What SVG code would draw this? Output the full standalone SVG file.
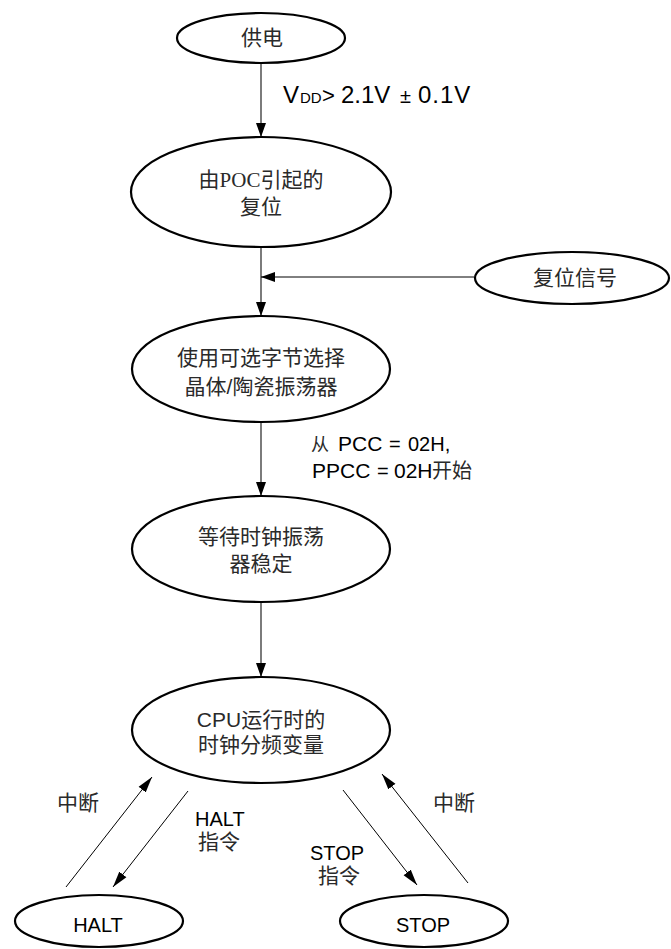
<svg xmlns="http://www.w3.org/2000/svg" width="671" height="949" viewBox="0 0 671 949">
<defs>
<marker id="ah" markerUnits="userSpaceOnUse" markerWidth="14" markerHeight="10" refX="14" refY="5" orient="auto">
<path d="M0,0 L14,5 L0,10 z" fill="#000"/>
</marker>
<marker id="ad" markerUnits="userSpaceOnUse" markerWidth="16" markerHeight="10" refX="16" refY="5" orient="auto">
<path d="M0,0.5 L16,5 L0,9.5 z" fill="#000"/>
</marker>
</defs>
<style>
.node ellipse{fill:#fff;stroke:#000;stroke-width:2.2}
.cjk{font-family:"Liberation Sans","Noto Sans CJK SC",sans-serif;font-size:21px;fill:#2a2a2a}
.lat{font-family:"Liberation Sans","Noto Sans CJK SC",sans-serif;font-size:20px;fill:#000}
.mid{text-anchor:middle}
.v{stroke:#444;stroke-width:1.4;fill:none}
.d{stroke:#000;stroke-width:1;fill:none}
</style>
<g id="connectors">
<line class="v" x1="261" y1="63" x2="261" y2="137" marker-end="url(#ah)"/>
<line class="v" x1="261" y1="247" x2="261" y2="316" marker-end="url(#ah)"/>
<line class="d" x1="474" y1="277" x2="261" y2="277" marker-end="url(#ah)"/>
<line class="v" x1="261" y1="422" x2="261" y2="496" marker-end="url(#ah)"/>
<line class="v" x1="261" y1="603" x2="261" y2="677" marker-end="url(#ah)"/>
<line class="d" x1="66" y1="887" x2="152" y2="777" marker-end="url(#ad)"/>
<line class="d" x1="188" y1="791" x2="113" y2="887" marker-end="url(#ad)"/>
<line class="d" x1="343" y1="790" x2="417" y2="885" marker-end="url(#ad)"/>
<line class="d" x1="468" y1="883" x2="382" y2="774" marker-end="url(#ad)"/>
</g>
<g id="labels">
<text class="lat" y="103"><tspan x="283" font-size="24">V</tspan><tspan x="300" font-size="15">DD</tspan><tspan x="322" font-size="22">&gt;</tspan><tspan x="341" font-size="24">2.1V</tspan><tspan x="400" font-size="20">±</tspan><tspan x="418" font-size="24" letter-spacing="1">0.1V</tspan></text>
<text class="lat" y="451"><tspan x="311" font-size="18" fill="#2a2a2a">从</tspan><tspan x="338" font-size="21">PCC</tspan><tspan x="389">=</tspan><tspan x="408">02H,</tspan></text>
<text class="lat" y="478"><tspan x="312" font-size="21">PPCC</tspan><tspan x="377">=</tspan><tspan x="394" font-size="21">02H</tspan><tspan x="432" font-size="20" fill="#2a2a2a">开始</tspan></text>
<text class="cjk" x="57" y="810">中断</text>
<text class="lat" x="195" y="826">HALT</text>
<text class="cjk" x="198" y="849" font-size="20">指令</text>
<text class="lat" x="310" y="860">STOP</text>
<text class="cjk" x="318" y="883" font-size="20">指令</text>
<text class="cjk" x="433" y="810">中断</text>
</g>
<g id="n-power" class="node">
<ellipse cx="261" cy="38" rx="84" ry="25"/>
<text class="cjk mid" x="262" y="45">供电</text>
</g>
<g id="n-poc" class="node">
<ellipse cx="261" cy="192" rx="130" ry="55"/>
<text class="cjk mid" x="261" y="187">由<tspan font-family="Liberation Serif">POC</tspan>引起的</text>
<text class="cjk mid" x="261" y="214">复位</text>
</g>
<g id="n-reset" class="node">
<ellipse cx="572" cy="278" rx="97" ry="26"/>
<text class="cjk mid" x="575" y="285">复位信号</text>
</g>
<g id="n-option" class="node">
<ellipse cx="261" cy="369" rx="129" ry="53"/>
<text class="cjk mid" x="261" y="365">使用可选字节选择</text>
<text class="cjk mid" x="261" y="394">晶体/陶瓷振荡器</text>
</g>
<g id="n-wait" class="node">
<ellipse cx="261" cy="549" rx="129" ry="53"/>
<text class="cjk mid" x="261" y="544">等待时钟振荡</text>
<text class="cjk mid" x="261" y="571">器稳定</text>
</g>
<g id="n-cpu" class="node">
<ellipse cx="261" cy="730" rx="129" ry="53"/>
<text class="cjk mid" x="261" y="727">CPU运行时的</text>
<text class="cjk mid" x="261" y="752">时钟分频变量</text>
</g>
<g id="n-halt" class="node">
<ellipse cx="99" cy="921" rx="84" ry="26"/>
<text class="lat mid" x="98" y="932">HALT</text>
</g>
<g id="n-stop" class="node">
<ellipse cx="424" cy="921" rx="84" ry="26"/>
<text class="lat mid" x="423" y="932">STOP</text>
</g>
</svg>
